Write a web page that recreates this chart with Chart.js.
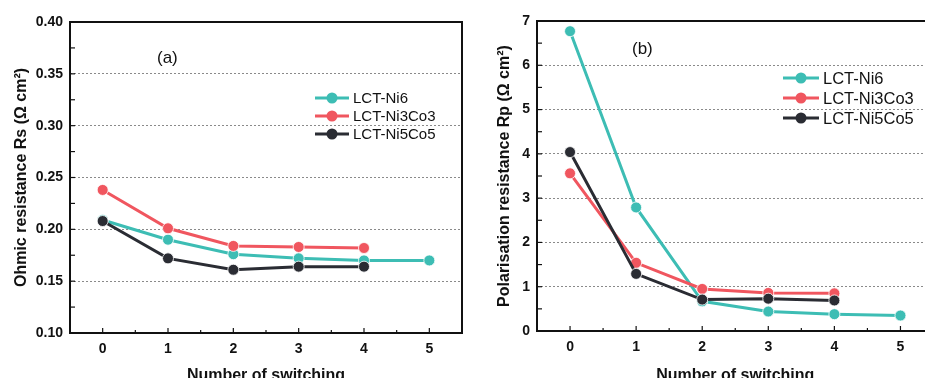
<!DOCTYPE html>
<html>
<head>
<meta charset="utf-8">
<script src="https://cdn.jsdelivr.net/npm/chart.js@4.4.1/dist/chart.umd.min.js"></script>
<style>
  html, body { margin: 0; padding: 0; background: #fff; }
  body { width: 925px; height: 378px; overflow: hidden; position: relative; }
  .box { position: absolute; top: 0; height: 385px; }
  #boxA { left: 0; width: 470px; }
  #boxB { left: 465px; width: 475px; }
</style>
</head>
<body>
<div class="box" id="boxA"><canvas id="chartA"></canvas></div>
<div class="box" id="boxB"><canvas id="chartB"></canvas></div>
<script>
// switching count (x axis)
const switching = [0, 1, 2, 3, 4, 5];
const seriesNames = ["LCT-Ni6", "LCT-Ni3Co3", "LCT-Ni5Co5"];
const seriesColors = ["#3dbdb4", "#f0565f", "#2a2c33"];

// (a) ohmic resistance Rs
const rsNi6 = [0.209, 0.190, 0.176, 0.172, 0.170, 0.170];
const rsNi3Co3 = [0.238, 0.201, 0.184, 0.183, 0.182];
const rsNi5Co5 = [0.208, 0.172, 0.161, 0.164, 0.164];
const rsTicks = [0.10, 0.15, 0.20, 0.25, 0.30, 0.35, 0.40];

// (b) polarisation resistance Rp
const rpNi6 = [6.77, 2.79, 0.67, 0.44, 0.38, 0.35];
const rpNi3Co3 = [3.56, 1.54, 0.95, 0.86, 0.85];
const rpNi5Co5 = [4.04, 1.29, 0.71, 0.73, 0.69];
const rpTicks = [0, 1, 2, 3, 4, 5, 6, 7];

const FONT = "'Liberation Sans', Arial, sans-serif";
const BOX_H = 385;

function makeSets(lists) {
  return lists.map((vals, i) => ({
    label: seriesNames[i],
    data: vals.map((v, k) => ({ x: switching[k], y: v })),
    borderColor: seriesColors[i],
    backgroundColor: seriesColors[i],
    pointBackgroundColor: seriesColors[i],
    pointBorderColor: "rgba(255,255,255,0.8)",
    pointBorderWidth: 1,
    pointRadius: 5.5,
    borderWidth: 3,
    order: 2 - i
  }));
}

// frame, inward ticks, legend and panel letter
const decor = {
  id: "decor",
  afterDatasetsDraw(chart, args, o) {
    const c = chart.ctx, a = chart.chartArea;
    const xs = chart.scales.x, ys = chart.scales.y;
    c.save();
    c.strokeStyle = "#111";
    c.lineWidth = 1.2;
    // minor/major ticks pointing inward
    for (let v = xs.min + 0.5; v < xs.max; v += 0.5) {
      const px = xs.getPixelForValue(v);
      const len = Number.isInteger(v) ? 5 : 3;
      c.beginPath(); c.moveTo(px, a.bottom); c.lineTo(px, a.bottom - len); c.stroke();
    }
    const step = o.yMinor;
    for (let v = ys.min + step; v < ys.max - step / 2; v += step) {
      const py = ys.getPixelForValue(v);
      c.beginPath(); c.moveTo(a.left, py); c.lineTo(a.left + 5, py); c.stroke();
    }
    // frame
    c.lineWidth = 2;
    c.strokeRect(a.left, a.top, a.right - a.left, a.bottom - a.top);
    // legend
    c.font = o.legendSize + "px " + FONT;
    c.textBaseline = "middle";
    chart.data.datasets.forEach((ds, i) => {
      const y = o.legendY + i * o.legendGap;
      c.strokeStyle = ds.borderColor;
      c.lineWidth = 3;
      c.beginPath(); c.moveTo(o.legendX, y); c.lineTo(o.legendX + o.legendLen, y); c.stroke();
      c.fillStyle = ds.borderColor;
      c.beginPath(); c.arc(o.legendX + o.legendLen / 2, y, 5.5, 0, Math.PI * 2); c.fill();
      c.fillStyle = "#111";
      c.fillText(ds.label, o.legendX + o.legendLen + 4, y + 1);
    });
    // panel letter
    c.font = "17px " + FONT;
    c.fillText(o.letter, o.letterX, o.letterY);
    c.restore();
  }
};

function makeChart(id, lists, yTicks, yMinor, yTitle, fmt, leftW, titlePad, padTop, padRight, bottomY, dec) {
  return new Chart(document.getElementById(id), {
    type: "line",
    data: { datasets: makeSets(lists) },
    plugins: [decor],
    options: {
      responsive: true,
      maintainAspectRatio: false,
      animation: false,
      layout: { padding: { top: padTop, right: padRight, left: 0, bottom: 0 } },
      plugins: {
        legend: { display: false },
        tooltip: { enabled: false },
        decor: Object.assign({ yMinor: yMinor }, dec)
      },
      scales: {
        x: {
          type: "linear",
          min: -0.5,
          max: 5.5,
          afterBuildTicks: s => { s.ticks = switching.map(v => ({ value: v })); },
          afterFit: s => { s.height = BOX_H - bottomY; },
          grid: { display: false, drawTicks: false },
          border: { display: false },
          ticks: { padding: 8, color: "#111", font: { family: FONT, size: 14, weight: "bold" } },
          title: {
            display: true,
            text: "Number of switching",
            color: "#111",
            padding: { top: 6, bottom: 0 },
            font: { family: FONT, size: 16, weight: "bold" }
          }
        },
        y: {
          min: yTicks[0],
          max: yTicks[yTicks.length - 1],
          afterBuildTicks: s => { s.ticks = yTicks.map(v => ({ value: v })); },
          afterFit: s => { s.width = leftW; },
          grid: {
            drawTicks: false,
            color: t => (t.tick && (t.tick.value === yTicks[0] || t.tick.value === yTicks[yTicks.length - 1])) ? "rgba(0,0,0,0)" : "#8a8a8a",
            lineWidth: 1
          },
          border: { display: false, dash: [2, 2] },
          ticks: {
            padding: 7,
            color: "#111",
            font: { family: FONT, size: 14, weight: "bold" },
            callback: fmt
          },
          title: {
            display: true,
            text: yTitle,
            color: "#111",
            padding: { top: titlePad, bottom: 0 },
            font: { family: FONT, size: 16, weight: "bold" }
          }
        }
      }
    }
  });
}

makeChart("chartA", [rsNi6, rsNi3Co3, rsNi5Co5], rsTicks, 0.025,
  "Ohmic resistance Rs (\u03A9 cm\u00B2)", v => v.toFixed(2), 70, 12, 22, 8, 333,
  { legendX: 315, legendLen: 34, legendY: 98, legendGap: 18, legendSize: 15,
    letter: "(a)", letterX: 157, letterY: 58 });

makeChart("chartB", [rpNi6, rpNi3Co3, rpNi5Co5], rpTicks, 0.5,
  "Polarisation resistance Rp (\u03A9 cm\u00B2)", v => String(v), 72, 30, 21, 6, 331,
  { legendX: 318, legendLen: 36, legendY: 78, legendGap: 20, legendSize: 16.5,
    letter: "(b)", letterX: 167, letterY: 49 });
</script>
</body>
</html>
